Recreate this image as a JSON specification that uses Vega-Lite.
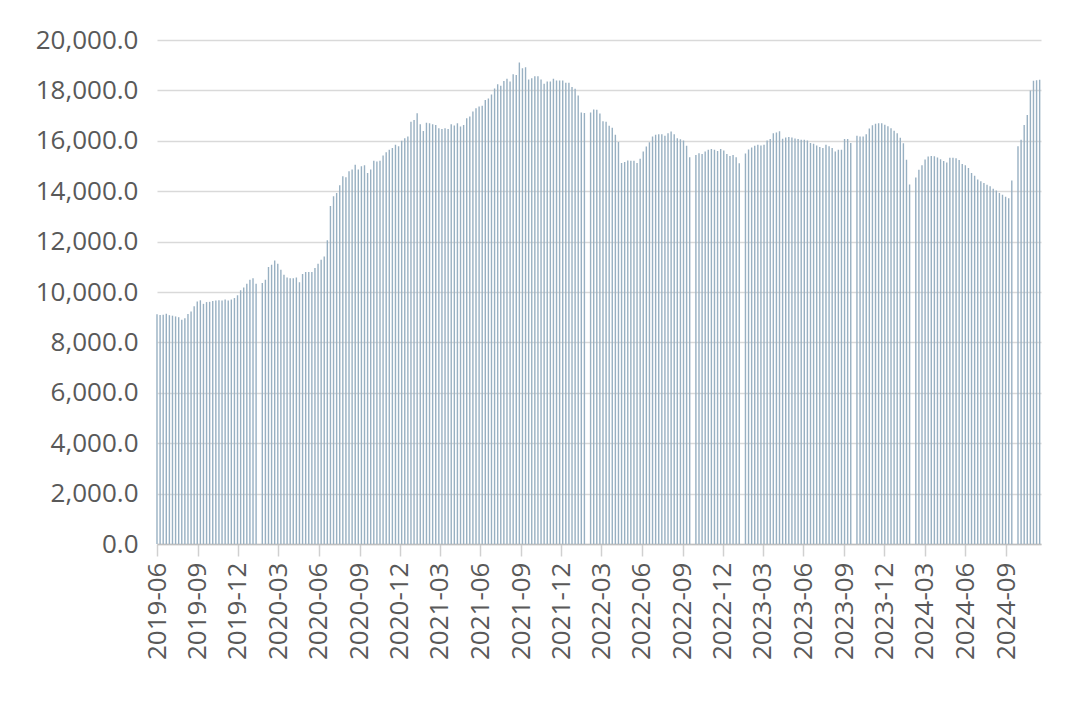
{
"$schema": "https://vega.github.io/schema/vega-lite/v6.json",
"width": 884,
"height": 504,
"autosize": {"type": "none"},
"padding": {"left": 157, "top": 40, "right": 39, "bottom": 157},
"background": "white",
"config": {"view": {"stroke": null}, "font": "Open Sans"},
"data": {"values": [
{"d":"2019-06-01","v":9120},{"d":"2019-06-08","v":9090},{"d":"2019-06-15","v":9100},{"d":"2019-06-22","v":9140},{"d":"2019-06-29","v":9080},
{"d":"2019-07-06","v":9060},{"d":"2019-07-13","v":9030},{"d":"2019-07-20","v":9000},{"d":"2019-07-27","v":8900},
{"d":"2019-08-03","v":8960},{"d":"2019-08-10","v":9130},{"d":"2019-08-17","v":9230},{"d":"2019-08-24","v":9430},{"d":"2019-08-31","v":9620},
{"d":"2019-09-07","v":9670},{"d":"2019-09-14","v":9530},{"d":"2019-09-21","v":9600},{"d":"2019-09-28","v":9610},
{"d":"2019-10-05","v":9640},{"d":"2019-10-12","v":9660},{"d":"2019-10-19","v":9670},{"d":"2019-10-26","v":9660},
{"d":"2019-11-02","v":9700},{"d":"2019-11-09","v":9660},{"d":"2019-11-16","v":9700},{"d":"2019-11-23","v":9760},{"d":"2019-11-30","v":9870},
{"d":"2019-12-07","v":10070},{"d":"2019-12-14","v":10180},{"d":"2019-12-21","v":10330},{"d":"2019-12-28","v":10490},
{"d":"2020-01-04","v":10550},{"d":"2020-01-11","v":10330},{"d":"2020-01-25","v":10360},
{"d":"2020-02-01","v":10490},{"d":"2020-02-08","v":10990},{"d":"2020-02-15","v":11080},{"d":"2020-02-22","v":11250},{"d":"2020-02-29","v":11120},
{"d":"2020-03-07","v":10880},{"d":"2020-03-14","v":10680},{"d":"2020-03-21","v":10580},{"d":"2020-03-28","v":10550},
{"d":"2020-04-04","v":10550},{"d":"2020-04-11","v":10580},{"d":"2020-04-18","v":10390},{"d":"2020-04-25","v":10710},
{"d":"2020-05-02","v":10790},{"d":"2020-05-09","v":10790},{"d":"2020-05-16","v":10790},{"d":"2020-05-23","v":10950},{"d":"2020-05-30","v":11120},
{"d":"2020-06-06","v":11280},{"d":"2020-06-13","v":11410},{"d":"2020-06-20","v":12050},{"d":"2020-06-27","v":13410},
{"d":"2020-07-04","v":13800},{"d":"2020-07-11","v":13930},{"d":"2020-07-18","v":14240},{"d":"2020-07-25","v":14590},
{"d":"2020-08-01","v":14550},{"d":"2020-08-08","v":14790},{"d":"2020-08-15","v":14860},{"d":"2020-08-22","v":15050},{"d":"2020-08-29","v":14860},
{"d":"2020-09-05","v":14990},{"d":"2020-09-12","v":15030},{"d":"2020-09-19","v":14720},{"d":"2020-09-26","v":14860},
{"d":"2020-10-03","v":15210},{"d":"2020-10-10","v":15180},{"d":"2020-10-17","v":15210},{"d":"2020-10-24","v":15420},{"d":"2020-10-31","v":15550},
{"d":"2020-11-07","v":15640},{"d":"2020-11-14","v":15710},{"d":"2020-11-21","v":15840},{"d":"2020-11-28","v":15780},
{"d":"2020-12-05","v":16000},{"d":"2020-12-12","v":16100},{"d":"2020-12-19","v":16170},{"d":"2020-12-26","v":16760},
{"d":"2021-01-02","v":16830},{"d":"2021-01-09","v":17090},{"d":"2021-01-16","v":16660},{"d":"2021-01-23","v":16390},{"d":"2021-01-30","v":16720},
{"d":"2021-02-06","v":16700},{"d":"2021-02-13","v":16660},{"d":"2021-02-20","v":16630},{"d":"2021-02-27","v":16500},
{"d":"2021-03-06","v":16470},{"d":"2021-03-13","v":16500},{"d":"2021-03-20","v":16470},{"d":"2021-03-27","v":16660},
{"d":"2021-04-03","v":16610},{"d":"2021-04-10","v":16700},{"d":"2021-04-17","v":16570},{"d":"2021-04-24","v":16630},
{"d":"2021-05-01","v":16890},{"d":"2021-05-08","v":16960},{"d":"2021-05-15","v":17160},{"d":"2021-05-22","v":17290},{"d":"2021-05-29","v":17360},
{"d":"2021-06-05","v":17390},{"d":"2021-06-12","v":17620},{"d":"2021-06-19","v":17680},{"d":"2021-06-26","v":17840},
{"d":"2021-07-03","v":18080},{"d":"2021-07-10","v":18240},{"d":"2021-07-17","v":18180},{"d":"2021-07-24","v":18370},{"d":"2021-07-31","v":18460},
{"d":"2021-08-07","v":18350},{"d":"2021-08-14","v":18640},{"d":"2021-08-21","v":18610},{"d":"2021-08-28","v":19110},
{"d":"2021-09-04","v":18880},{"d":"2021-09-11","v":18920},{"d":"2021-09-18","v":18430},{"d":"2021-09-25","v":18480},
{"d":"2021-10-02","v":18560},{"d":"2021-10-09","v":18560},{"d":"2021-10-16","v":18430},{"d":"2021-10-23","v":18260},{"d":"2021-10-30","v":18350},
{"d":"2021-11-06","v":18350},{"d":"2021-11-13","v":18460},{"d":"2021-11-20","v":18390},{"d":"2021-11-27","v":18390},
{"d":"2021-12-04","v":18390},{"d":"2021-12-11","v":18300},{"d":"2021-12-18","v":18300},{"d":"2021-12-25","v":18130},
{"d":"2022-01-01","v":18070},{"d":"2022-01-08","v":17800},{"d":"2022-01-15","v":17120},{"d":"2022-01-22","v":17100},
{"d":"2022-02-05","v":17120},{"d":"2022-02-12","v":17240},{"d":"2022-02-19","v":17230},{"d":"2022-02-26","v":17080},
{"d":"2022-03-05","v":16780},{"d":"2022-03-12","v":16760},{"d":"2022-03-19","v":16600},{"d":"2022-03-26","v":16520},
{"d":"2022-04-02","v":16240},{"d":"2022-04-09","v":15950},{"d":"2022-04-16","v":15120},{"d":"2022-04-23","v":15160},{"d":"2022-04-30","v":15220},
{"d":"2022-05-07","v":15210},{"d":"2022-05-14","v":15210},{"d":"2022-05-21","v":15120},{"d":"2022-05-28","v":15290},
{"d":"2022-06-04","v":15580},{"d":"2022-06-11","v":15770},{"d":"2022-06-18","v":15940},{"d":"2022-06-25","v":16170},
{"d":"2022-07-02","v":16240},{"d":"2022-07-09","v":16260},{"d":"2022-07-16","v":16260},{"d":"2022-07-23","v":16200},{"d":"2022-07-30","v":16300},
{"d":"2022-08-06","v":16370},{"d":"2022-08-13","v":16260},{"d":"2022-08-20","v":16100},{"d":"2022-08-27","v":16060},
{"d":"2022-09-03","v":16010},{"d":"2022-09-10","v":15800},{"d":"2022-09-17","v":15350},
{"d":"2022-10-01","v":15440},{"d":"2022-10-08","v":15510},{"d":"2022-10-15","v":15480},{"d":"2022-10-22","v":15580},{"d":"2022-10-29","v":15640},
{"d":"2022-11-05","v":15670},{"d":"2022-11-12","v":15640},{"d":"2022-11-19","v":15600},{"d":"2022-11-26","v":15670},
{"d":"2022-12-03","v":15620},{"d":"2022-12-10","v":15480},{"d":"2022-12-17","v":15400},{"d":"2022-12-24","v":15440},{"d":"2022-12-31","v":15350},
{"d":"2023-01-07","v":15110},{"d":"2023-01-21","v":15500},{"d":"2023-01-28","v":15650},
{"d":"2023-02-04","v":15730},{"d":"2023-02-11","v":15800},{"d":"2023-02-18","v":15840},{"d":"2023-02-25","v":15810},
{"d":"2023-03-04","v":15840},{"d":"2023-03-11","v":16010},{"d":"2023-03-18","v":16070},{"d":"2023-03-25","v":16300},
{"d":"2023-04-01","v":16330},{"d":"2023-04-08","v":16380},{"d":"2023-04-15","v":16080},{"d":"2023-04-22","v":16130},{"d":"2023-04-29","v":16150},
{"d":"2023-05-06","v":16130},{"d":"2023-05-13","v":16090},{"d":"2023-05-20","v":16070},{"d":"2023-05-27","v":16040},
{"d":"2023-06-03","v":16040},{"d":"2023-06-10","v":16010},{"d":"2023-06-17","v":15910},{"d":"2023-06-24","v":15880},
{"d":"2023-07-01","v":15810},{"d":"2023-07-08","v":15750},{"d":"2023-07-15","v":15710},{"d":"2023-07-22","v":15840},{"d":"2023-07-29","v":15780},
{"d":"2023-08-05","v":15710},{"d":"2023-08-12","v":15580},{"d":"2023-08-19","v":15640},{"d":"2023-08-26","v":15640},
{"d":"2023-09-02","v":16070},{"d":"2023-09-09","v":16070},{"d":"2023-09-16","v":15910},{"d":"2023-09-30","v":16200},
{"d":"2023-10-07","v":16170},{"d":"2023-10-14","v":16170},{"d":"2023-10-21","v":16260},{"d":"2023-10-28","v":16490},
{"d":"2023-11-04","v":16620},{"d":"2023-11-11","v":16680},{"d":"2023-11-18","v":16700},{"d":"2023-11-25","v":16700},
{"d":"2023-12-02","v":16640},{"d":"2023-12-09","v":16580},{"d":"2023-12-16","v":16500},{"d":"2023-12-23","v":16400},{"d":"2023-12-30","v":16300},
{"d":"2024-01-06","v":16120},{"d":"2024-01-13","v":15900},{"d":"2024-01-20","v":15250},{"d":"2024-01-27","v":14270},
{"d":"2024-02-10","v":14540},{"d":"2024-02-17","v":14850},{"d":"2024-02-24","v":15030},
{"d":"2024-03-02","v":15260},{"d":"2024-03-09","v":15380},{"d":"2024-03-16","v":15400},{"d":"2024-03-23","v":15390},{"d":"2024-03-30","v":15340},
{"d":"2024-04-06","v":15270},{"d":"2024-04-13","v":15200},{"d":"2024-04-20","v":15140},{"d":"2024-04-27","v":15330},
{"d":"2024-05-04","v":15330},{"d":"2024-05-11","v":15310},{"d":"2024-05-18","v":15240},{"d":"2024-05-25","v":15080},
{"d":"2024-06-01","v":15030},{"d":"2024-06-08","v":14920},{"d":"2024-06-15","v":14720},{"d":"2024-06-22","v":14610},{"d":"2024-06-29","v":14460},
{"d":"2024-07-06","v":14390},{"d":"2024-07-13","v":14330},{"d":"2024-07-20","v":14260},{"d":"2024-07-27","v":14200},
{"d":"2024-08-03","v":14100},{"d":"2024-08-10","v":14030},{"d":"2024-08-17","v":13930},{"d":"2024-08-24","v":13860},{"d":"2024-08-31","v":13780},
{"d":"2024-09-07","v":13720},{"d":"2024-09-14","v":14420},{"d":"2024-09-28","v":15780},
{"d":"2024-10-05","v":16040},{"d":"2024-10-12","v":16630},{"d":"2024-10-19","v":17020},{"d":"2024-10-26","v":18000},
{"d":"2024-11-02","v":18380},{"d":"2024-11-09","v":18400},{"d":"2024-11-16","v":18420}
]},
"mark": {"type": "bar", "width": 1.4, "color": "#98b0c2"},
"encoding": {
  "x": {
    "field": "d", "type": "temporal",
    "scale": {"type": "utc", "padding": 0, "domain": [{"year": 2019, "month": 6, "date": 1, "utc": true}, {"year": 2024, "month": 11, "date": 19, "utc": true}]},
    "axis": {
      "title": null,
      "values": [
        {"year": 2019, "month": 6, "date": 1, "utc": true}, {"year": 2019, "month": 9, "date": 1, "utc": true}, {"year": 2019, "month": 12, "date": 1, "utc": true},
        {"year": 2020, "month": 3, "date": 1, "utc": true}, {"year": 2020, "month": 6, "date": 1, "utc": true}, {"year": 2020, "month": 9, "date": 1, "utc": true}, {"year": 2020, "month": 12, "date": 1, "utc": true},
        {"year": 2021, "month": 3, "date": 1, "utc": true}, {"year": 2021, "month": 6, "date": 1, "utc": true}, {"year": 2021, "month": 9, "date": 1, "utc": true}, {"year": 2021, "month": 12, "date": 1, "utc": true},
        {"year": 2022, "month": 3, "date": 1, "utc": true}, {"year": 2022, "month": 6, "date": 1, "utc": true}, {"year": 2022, "month": 9, "date": 1, "utc": true}, {"year": 2022, "month": 12, "date": 1, "utc": true},
        {"year": 2023, "month": 3, "date": 1, "utc": true}, {"year": 2023, "month": 6, "date": 1, "utc": true}, {"year": 2023, "month": 9, "date": 1, "utc": true}, {"year": 2023, "month": 12, "date": 1, "utc": true},
        {"year": 2024, "month": 3, "date": 1, "utc": true}, {"year": 2024, "month": 6, "date": 1, "utc": true}, {"year": 2024, "month": 9, "date": 1, "utc": true}
      ],
      "format": "%Y-%m",
      "labelAngle": 270,
      "labelFont": "Open Sans",
      "labelFontSize": 26,
      "labelColor": "#595959",
      "labelPadding": 6,
      "labelOverlap": false,
      "labelFlush": false,
      "tickSize": 12,
      "tickColor": "#d0d0d0",
      "tickWidth": 1.5,
      "domainColor": "#bfbfbf",
      "domainWidth": 1.5,
      "grid": false
    }
  },
  "y": {
    "field": "v", "type": "quantitative",
    "scale": {"domain": [0, 20000], "nice": false},
    "axis": {
      "title": null,
      "values": [0, 2000, 4000, 6000, 8000, 10000, 12000, 14000, 16000, 18000, 20000],
      "format": ",.1f",
      "labelFont": "Open Sans",
      "labelFontSize": 26,
      "labelColor": "#595959",
      "labelPadding": 19,
      "ticks": false,
      "domain": false,
      "grid": true,
      "gridColor": "#d9d9d9",
      "gridWidth": 1.5
    }
  }
}
}
